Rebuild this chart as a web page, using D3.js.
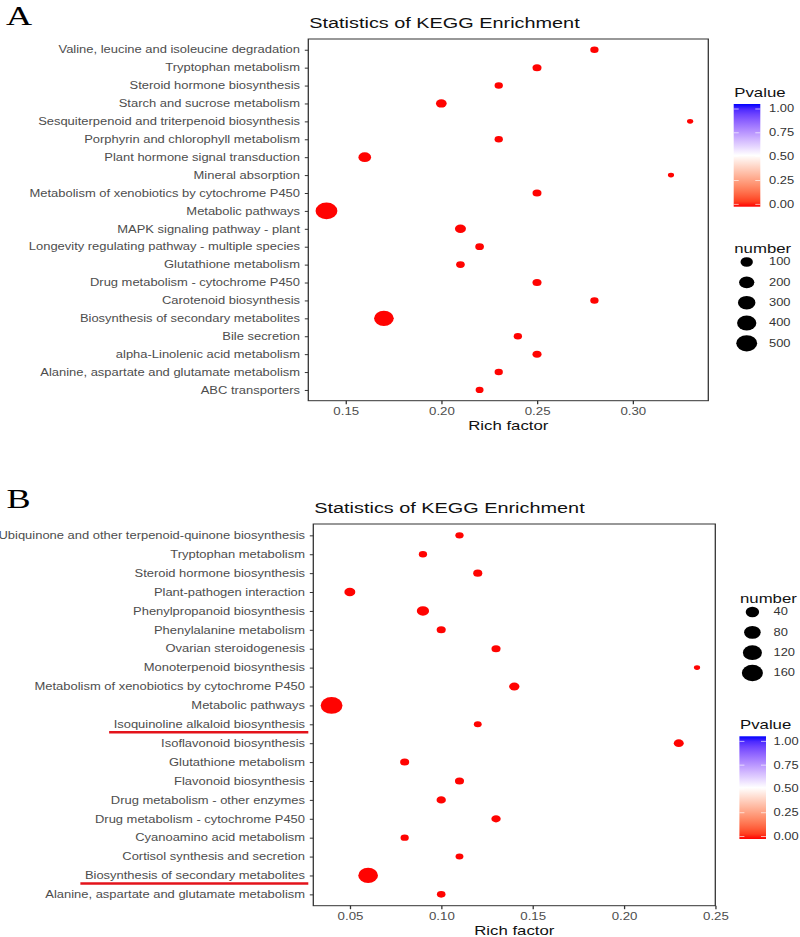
<!DOCTYPE html>
<html>
<head>
<meta charset="utf-8">
<script src="https://cdn.jsdelivr.net/npm/d3@7"></script>
<style>
  html, body { margin: 0; padding: 0; background: #fff; }
  svg { display: block; }
</style>
</head>
<body>
<script>
// ---------------- DATA ----------------
const catsA = [
  "Valine, leucine and isoleucine degradation",
  "Tryptophan metabolism",
  "Steroid hormone biosynthesis",
  "Starch and sucrose metabolism",
  "Sesquiterpenoid and triterpenoid biosynthesis",
  "Porphyrin and chlorophyll metabolism",
  "Plant hormone signal transduction",
  "Mineral absorption",
  "Metabolism of xenobiotics by cytochrome P450",
  "Metabolic pathways",
  "MAPK signaling pathway - plant",
  "Longevity regulating pathway - multiple species",
  "Glutathione metabolism",
  "Drug metabolism - cytochrome P450",
  "Carotenoid biosynthesis",
  "Biosynthesis of secondary metabolites",
  "Bile secretion",
  "alpha-Linolenic acid metabolism",
  "Alanine, aspartate and glutamate metabolism",
  "ABC transporters"
];
const richA   = [0.28, 0.25, 0.23, 0.20, 0.33, 0.23, 0.16, 0.32, 0.25, 0.14, 0.21, 0.22, 0.21, 0.25, 0.28, 0.17, 0.24, 0.25, 0.23, 0.22];
const countA  = [25, 33, 25, 61, 15, 25, 109, 15, 33, 560, 66, 29, 29, 33, 25, 424, 25, 33, 25, 22];
const pvalA   = [0.001, 0.001, 0.001, 0.001, 0.001, 0.001, 0.001, 0.001, 0.001, 0.001, 0.001, 0.001, 0.001, 0.001, 0.001, 0.001, 0.001, 0.001, 0.001, 0.001];
const xTicksA = [0.15, 0.20, 0.25, 0.30];
const sizeBreaksA = [100, 200, 300, 400, 500];

const catsB = [
  "Ubiquinone and other terpenoid-quinone biosynthesis",
  "Tryptophan metabolism",
  "Steroid hormone biosynthesis",
  "Plant-pathogen interaction",
  "Phenylpropanoid biosynthesis",
  "Phenylalanine metabolism",
  "Ovarian steroidogenesis",
  "Monoterpenoid biosynthesis",
  "Metabolism of xenobiotics by cytochrome P450",
  "Metabolic pathways",
  "Isoquinoline alkaloid biosynthesis",
  "Isoflavonoid biosynthesis",
  "Glutathione metabolism",
  "Flavonoid biosynthesis",
  "Drug metabolism - other enzymes",
  "Drug metabolism - cytochrome P450",
  "Cyanoamino acid metabolism",
  "Cortisol synthesis and secretion",
  "Biosynthesis of secondary metabolites",
  "Alanine, aspartate and glutamate metabolism"
];
const richB   = [0.11, 0.09, 0.12, 0.05, 0.09, 0.10, 0.13, 0.24, 0.14, 0.04, 0.12, 0.23, 0.08, 0.11, 0.10, 0.13, 0.08, 0.11, 0.06, 0.10];
const countB  = [6, 6, 9, 19, 29, 9, 9, 3, 15, 175, 5, 13, 9, 9, 10, 10, 6, 5, 132, 7];
const pvalB   = [0.001, 0.001, 0.001, 0.001, 0.001, 0.001, 0.001, 0.001, 0.001, 0.001, 0.001, 0.001, 0.001, 0.001, 0.001, 0.001, 0.001, 0.001, 0.001, 0.001];
const xTicksB = [0.05, 0.10, 0.15, 0.20, 0.25];
const sizeBreaksB = [40, 80, 120, 160];
const highlightB = ["Isoquinoline alkaloid biosynthesis", "Biosynthesis of secondary metabolites"];

const pBreaks = [0.00, 0.25, 0.50, 0.75, 1.00];
const chartTitle = "Statistics of KEGG Enrichment";
const xTitle = "Rich factor";

// ---------------- SETUP ----------------
const SX = 1.29;                 // horizontal stretch of the original figure
const L = v => v / SX;           // actual pixel x -> logical x
const FONT = "'Liberation Sans', Arial, Helvetica, sans-serif";
const SERIF = "'Liberation Serif', 'Times New Roman', serif";
const YFONT = 10.05;

const svg = d3.select("body").append("svg").attr("width", 800).attr("height", 937);
const root = svg.append("g").attr("transform", `scale(${SX},1)`);

const color = d3.scaleLinear().domain([0, 0.5, 1])
  .range(["#FF0000", "#FFFFFF", "#0000FF"]).interpolate(d3.interpolateLab);

function radiusScale(counts) {
  const [mn, mx] = d3.extent(counts);
  const s = d3.scaleSqrt().domain([0, mx - mn]).range([0, 6.05]);
  return v => 2.4 + s(Math.max(0, v - mn));
}

function expand(vals) {
  const [mn, mx] = d3.extent(vals);
  const e = (mx - mn) * 0.05;
  return [mn - e, mx + e];
}

let gradId = 0;

function panel(o) {
  const g = root.append("g");
  const n = o.cats.length;
  const x = d3.scaleLinear().domain(expand(o.rich)).range([L(o.left), L(o.right)]);
  const y = d3.scalePoint().domain(o.cats).range([o.top, o.bottom]).padding(0.6);
  const r = radiusScale(o.counts);

  // letter
  g.append("text").attr("x", L(o.letterX)).attr("y", o.letterY)
    .attr("font-family", SERIF).attr("font-size", 28).attr("fill", "#000").text(o.letter);

  // title
  g.append("text").attr("x", L(o.left + 1)).attr("y", o.top - 11)
    .attr("font-family", FONT).attr("font-size", 15.4).attr("fill", "#111").text(chartTitle);

  // x axis
  const xa = g.append("g").attr("transform", `translate(0,${o.bottom})`)
    .call(d3.axisBottom(x).tickValues(o.ticks).tickFormat(d3.format(".2f")).tickSize(3.5).tickPadding(3.1));
  xa.select(".domain").remove();
  xa.selectAll("line").attr("stroke", "#333");
  xa.selectAll("text").attr("font-family", FONT).attr("font-size", 10.3).attr("fill", "#4D4D4D");

  // y axis
  const ya = g.append("g").attr("transform", `translate(${L(o.left)},0)`)
    .call(d3.axisLeft(y).tickSize(L(3.5)).tickPadding(L(4.8)));
  ya.select(".domain").remove();
  ya.selectAll("line").attr("stroke", "#333");
  ya.selectAll("text").attr("font-family", FONT).attr("font-size", YFONT).attr("fill", "#4D4D4D");

  // highlight underlines
  if (o.highlight) {
    ya.selectAll(".tick").each(function(d) {
      if (o.highlight.indexOf(d) < 0) return;
      const t = d3.select(this).select("text").node();
      const bb = t.getBBox();
      const yy = y(d) + 8;
      g.append("line")
        .attr("x1", L(o.left) + bb.x - L(4.5)).attr("x2", L(o.left - 5))
        .attr("y1", yy).attr("y2", yy)
        .attr("stroke", "#E3131B").attr("stroke-width", 2.6);
    });
  }

  // border
  g.append("rect").attr("x", L(o.left)).attr("y", o.top)
    .attr("width", L(o.right - o.left)).attr("height", o.bottom - o.top)
    .attr("fill", "none").attr("stroke", "#333").attr("stroke-width", 1);

  // points
  g.selectAll("circle.pt").data(d3.range(n)).join("circle").attr("class", "pt")
    .attr("cx", i => x(o.rich[i])).attr("cy", i => y(o.cats[i]))
    .attr("r", i => r(o.counts[i])).attr("fill", i => color(o.pvals[i]));

  // x title
  g.append("text").attr("x", (L(o.left) + L(o.right)) / 2).attr("y", o.bottom + 29)
    .attr("text-anchor", "middle").attr("font-family", FONT).attr("font-size", 13)
    .attr("fill", "#111").text(xTitle);

  return { r };
}

function legendP(T, titleX, labelX) {
  const g = root.append("g");
  g.append("text").attr("x", L(titleX)).attr("y", T + 4.6)
    .attr("font-family", FONT).attr("font-size", 13).attr("fill", "#111").text("Pvalue");
  const bx = titleX - 0.6, bw = 26.6, btop = T + 12, bbot = T + 114.7;
  const id = "grad" + (gradId++);
  const grad = svg.append("defs").append("linearGradient").attr("id", id)
    .attr("x1", 0).attr("y1", 1).attr("x2", 0).attr("y2", 0);
  d3.range(0, 1.0001, 0.05).forEach(t => {
    grad.append("stop").attr("offset", t).attr("stop-color", color(t));
  });
  g.append("rect").attr("x", L(bx)).attr("y", btop).attr("width", L(bw)).attr("height", bbot - btop)
    .attr("fill", `url(#${id})`);
  const py = d3.scaleLinear().domain([0, 1]).range([T + 112.3, T + 17]);
  pBreaks.forEach(p => {
    const yy = py(p);
    g.append("line").attr("x1", L(bx)).attr("x2", L(bx + 5)).attr("y1", yy).attr("y2", yy)
      .attr("stroke", "#fff").attr("stroke-opacity", 0.8).attr("stroke-width", 0.8);
    g.append("line").attr("x1", L(bx + bw - 5)).attr("x2", L(bx + bw)).attr("y1", yy).attr("y2", yy)
      .attr("stroke", "#fff").attr("stroke-opacity", 0.8).attr("stroke-width", 0.8);
    g.append("text").attr("x", L(labelX)).attr("y", yy).attr("dy", "0.35em")
      .attr("font-family", FONT).attr("font-size", 10).attr("fill", "#333").text(p.toFixed(2));
  });
}

function legendN(T, titleX, labelX, breaks, r) {
  const g = root.append("g");
  g.append("text").attr("x", L(titleX)).attr("y", T + 4.6)
    .attr("font-family", FONT).attr("font-size", 13).attr("fill", "#111").text("number");
  breaks.forEach((b, k) => {
    const yy = T + 14 + 20.33 * k;
    g.append("circle").attr("cx", L(titleX + 12.4)).attr("cy", yy).attr("r", r(b)).attr("fill", "#000");
    g.append("text").attr("x", L(labelX)).attr("y", yy).attr("dy", "0.35em")
      .attr("font-family", FONT).attr("font-size", 10).attr("fill", "#333").text(b);
  });
}

// ---------------- PANEL A ----------------
const pa = panel({
  cats: catsA, rich: richA, counts: countA, pvals: pvalA, ticks: xTicksA,
  left: 308.3, right: 708.3, top: 39, bottom: 400.7,
  letter: "A", letterX: 6, letterY: 25
});
legendP(92, 734.3, 769);
legendN(248, 734.3, 769, sizeBreaksA, pa.r);

// ---------------- PANEL B ----------------
const pb = panel({
  cats: catsB, rich: richB, counts: countB, pvals: pvalB, ticks: xTicksB,
  left: 313.3, right: 715.3, top: 524, bottom: 905.7,
  letter: "B", letterX: 6.5, letterY: 508, highlight: highlightB
});
legendN(598, 740, 773.5, sizeBreaksB, pb.r);
legendP(724.3, 740, 773.5);
</script>
</body>
</html>
